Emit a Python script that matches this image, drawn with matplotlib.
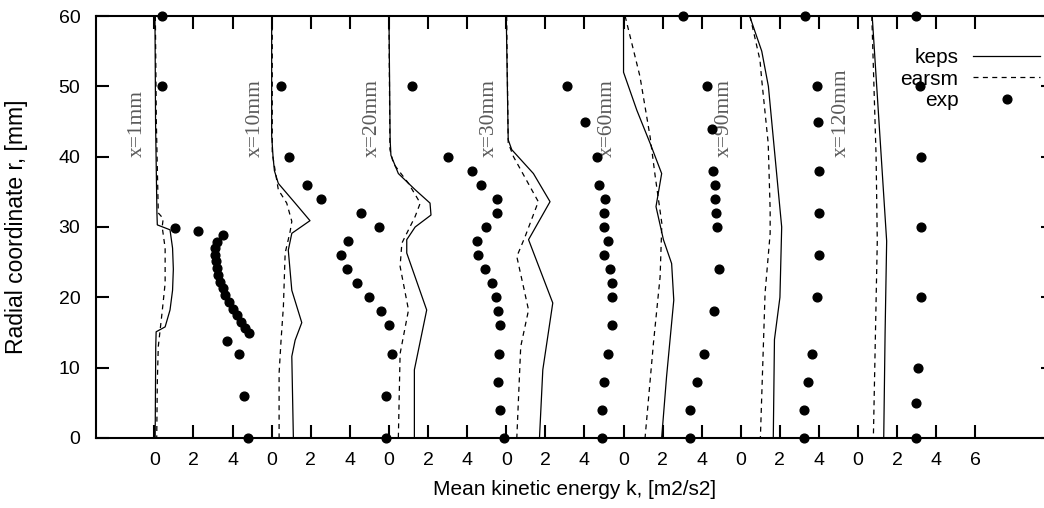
import numpy as np
import matplotlib
matplotlib.use('Agg')
from matplotlib import pyplot as plt

plt.rcParams['font.family'] = ['Liberation Sans', 'DejaVu Sans']

# stations along the jet, each profile is shifted by its offset on the k axis
stations = ['x=1mm', 'x=10mm', 'x=20mm', 'x=30mm', 'x=60mm', 'x=90mm', 'x=120mm']
offsets = [0, 6, 12, 18, 24, 30, 36]

# k-epsilon model
keps_r = [
    [60, 45, 32, 30.3, 29.6, 27, 24, 21, 18.2, 15.8, 15.1, 13, 0],
    [60, 43, 40, 38, 36.2, 33.4, 30.9, 29.1, 26.7, 21, 16.4, 13.9, 11.6, 0],
    [60, 42.4, 40.2, 37.6, 35.3, 33.4, 31.7, 30, 28.2, 26.3, 18.2, 9.7, 0],
    [60, 42.4, 41, 37.6, 33.6, 28.2, 19.2, 9.7, 0],
    [60, 52, 46.6, 41.9, 37.6, 32.9, 28.2, 24.8, 19.6, 8.7, 0],
    [60, 55, 50, 30, 20, 14, 0],
    [60, 28, 15, 0],
]
keps_k = [
    [0.03, 0.06, 0.13, 0.15, 0.8, 0.93, 0.97, 0.93, 0.8, 0.55, 0.09, 0.07, 0.04],
    [0.0, 0.0, 0.07, 0.14, 0.34, 1.2, 1.96, 1.03, 0.85, 1.03, 1.54, 1.2, 1.03, 1.11],
    [0.0, 0.06, 0.1, 0.48, 1.34, 2.1, 2.15, 1.34, 0.91, 0.91, 1.93, 1.3, 1.3],
    [0.0, 0.1, 0.28, 1.39, 2.24, 1.14, 2.38, 1.87, 1.7],
    [0.0, 0.0, 0.68, 1.36, 1.95, 1.66, 2.04, 2.46, 2.57, 2.2, 1.95],
    [0.45, 1.07, 1.41, 2.09, 2.0, 1.72, 1.66],
    [0.72, 1.46, 1.38, 1.31],
]

# EARSM model
earsm_r = [
    [60, 45, 32, 31.2, 30, 27, 22, 18, 13, 8, 0],
    [60, 40.5, 35.3, 33.4, 30.8, 29.3, 26.3, 18.7, 13.9, 9.2, 0],
    [60, 41, 39, 36.2, 33.4, 31.5, 27.7, 24.4, 18.2, 12, 0],
    [60, 42, 40, 33.6, 28.6, 25.8, 18.2, 13, 0],
    [60, 51.4, 42.8, 37.2, 30.5, 22.9, 13.5, 0],
    [60, 53.7, 50.9, 41.9, 32.4, 29.1, 20.6, 0],
    [60, 40, 28, 0],
]
earsm_k = [
    [0.05, 0.1, 0.2, 0.45, 0.4, 0.55, 0.55, 0.4, 0.2, 0.15, 0.12],
    [0.03, 0.03, 0.34, 0.77, 1.03, 0.94, 0.69, 0.6, 0.48, 0.38, 0.38],
    [0.0, 0.05, 0.23, 1.0, 1.6, 1.34, 0.66, 0.57, 1.0, 0.57, 0.48],
    [0.02, 0.1, 0.37, 1.64, 0.96, 0.54, 1.14, 0.74, 0.54],
    [0.08, 0.84, 1.36, 1.62, 1.96, 1.87, 1.53, 1.1],
    [0.47, 0.98, 1.07, 1.4, 1.5, 1.5, 1.24, 1.0],
    [0.7, 0.92, 0.98, 0.78],
]

# measurements
exp_r = [
    [60, 50, 29.8, 29.4, 28.9, 27.9, 27.0, 26.0, 25.1, 24.1, 23.2, 22.2, 21.3, 20.3,
     19.4, 18.4, 17.5, 16.5, 15.6, 14.9, 13.8, 11.9, 6.0, 0],
    [50, 40, 36, 34, 32, 30, 28, 26, 24, 22, 20, 18, 16, 12, 6, 0],
    [50, 40, 38, 36, 34, 32, 30, 28, 26, 24, 22, 20, 18, 16, 12, 8, 4, 0],
    [50, 45, 40, 36, 34, 32, 30, 28, 26, 24, 22, 20, 16, 12, 8, 4, 0],
    [60, 50, 44, 38, 36, 34, 32, 30, 24, 18, 12, 8, 4, 0],
    [60, 50, 45, 38, 32, 26, 20, 12, 8, 4, 0],
    [60, 50, 40, 30, 20, 10, 5, 0],
]
exp_k = [
    [0.38, 0.38, 1.06, 2.25, 3.5, 3.19, 3.1, 3.1, 3.14, 3.19, 3.27, 3.36, 3.5, 3.62,
     3.84, 4.01, 4.21, 4.42, 4.64, 4.86, 3.7, 4.33, 4.59, 4.81],
    [0.47, 0.89, 1.79, 2.5, 4.57, 5.51, 3.92, 3.55, 3.84, 4.35, 4.98, 5.58, 6.0, 6.17, 5.85, 5.84],
    [1.2, 3.04, 4.27, 4.71, 5.51, 5.51, 4.95, 4.49, 4.57, 4.92, 5.26, 5.48, 5.6, 5.68, 5.63, 5.6, 5.68, 5.88],
    [3.09, 4.03, 4.63, 4.76, 5.05, 5.02, 5.02, 5.19, 4.99, 5.31, 5.43, 5.43, 5.43, 5.19, 5.02, 4.88, 4.88],
    [3.06, 4.26, 4.51, 4.56, 4.68, 4.68, 4.72, 4.77, 4.89, 4.64, 4.12, 3.74, 3.4, 3.4],
    [3.28, 3.88, 3.96, 4.0, 4.0, 4.0, 3.88, 3.63, 3.42, 3.25, 3.25],
    [2.96, 3.17, 3.2, 3.22, 3.2, 3.08, 2.95, 2.96],
]

xtick_labels = ['0', '2', '4'] * 7 + ['6']
ytick_vals = [0, 10, 20, 30, 40, 50, 60]

fig = plt.figure(figsize=(10.44, 5.08), dpi=100)
ax = fig.add_axes([0.0917, 0.1378, 0.9175, 0.8307])

for i in range(len(stations)):
    o = offsets[i]
    l1, = ax.plot(o + np.array(keps_k[i]), keps_r[i], color='black', lw=0.9)
    l2, = ax.plot(o + np.array(earsm_k[i]), earsm_r[i], color='black', lw=0.9,
                  linestyle=(0, (4, 3.5)))
    l3, = ax.plot(o + np.array(exp_k[i]), exp_r[i], 'o', color='black', ms=6.3,
                  linestyle='none', clip_on=False, zorder=5)
    # station name, rotated, just left of the profile
    ax.text(o - 0.85, 40, stations[i], rotation=90, rotation_mode='anchor',
            ha='left', va='center', family='Liberation Serif', fontsize=15.5,
            color='#5a5a5a')

ax.set_xlim(-3, 46)
ax.set_ylim(0, 60)
ax.set_xticks(np.arange(0, 2 * len(xtick_labels), 2))
ax.set_xticklabels(xtick_labels)
ax.set_yticks(ytick_vals)

ax.tick_params(direction='in', length=9.4, width=1.5, top=True, right=True,
               labelsize=14)
ax.tick_params(axis='x', pad=10)
ax.tick_params(axis='y', pad=11)
for s in ax.spines.values():
    s.set_linewidth(1.5)

ax.set_xlabel('Mean kinetic energy k, [m2/s2]', fontsize=15)
ax.set_ylabel('Radial coordinate r, [mm]', fontsize=16.5)
ax.xaxis.set_label_coords(0.5, -0.1)
ax.yaxis.set_label_coords(-0.071, 0.5)

fig.legend([l1, l2, l3], ['keps', 'earsm', 'exp'], loc='upper right',
           bbox_to_anchor=(1040 / 1044, 0.905), frameon=False, fontsize=15,
           markerfirst=False, numpoints=1, handlelength=3.2, handletextpad=0.72,
           labelspacing=0.12, borderpad=0, borderaxespad=0)

fig.savefig('out.png', dpi=100)
